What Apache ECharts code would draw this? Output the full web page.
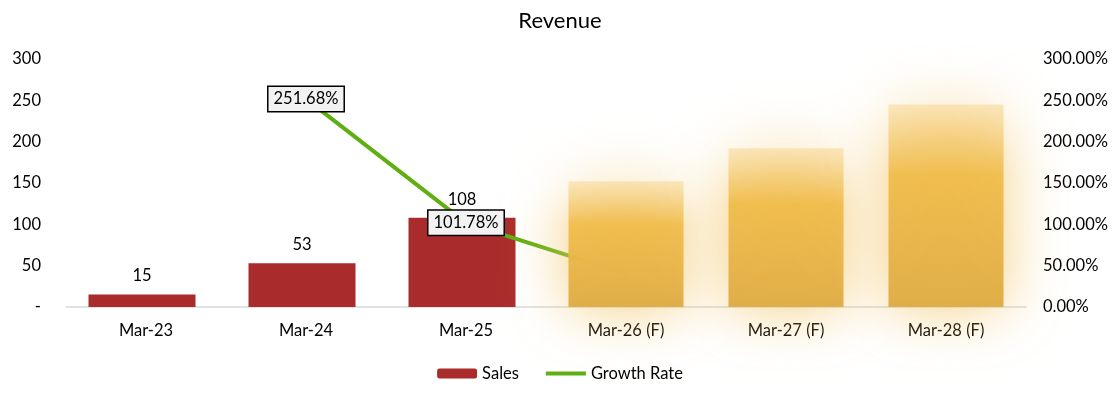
<!DOCTYPE html>
<html>
<head>
<meta charset="utf-8">
<script src="https://cdn.jsdelivr.net/npm/echarts@6/dist/echarts.min.js"></script>
<style>
    html, body { margin: 0; padding: 0; background: #fff; }
    #revenue-chart { width: 1120px; height: 399px; }
</style>
</head>
<body>
<div id="revenue-chart"></div>
<script>
// 数据
var categories = ['Mar-23', 'Mar-24', 'Mar-25', 'Mar-26 (F)', 'Mar-27 (F)', 'Mar-28 (F)'];
var sales = [15, 53, 108, null, null, null];
// forecast bars are blurred out in the picture, heights estimated
var forecastSales = [null, null, null, 152, 192, 245];
var growthRate = [null, 251.68, 101.78, 40, null, null];
// only the actual years show their growth label
var growthLabels = [null, 251.68, 101.78, null, null, null];

var fontName = 'Lato, "Open Sans", sans-serif';
var green = '#5FAE12';

var myChart = echarts.init(document.getElementById('revenue-chart'));

var option = {
    animation: false,
    textStyle: {
        fontFamily: fontName
    },
    title: {
        text: 'Revenue',
        left: 'center',
        top: 5,
        textStyle: {
            fontFamily: fontName,
            fontSize: 22,
            fontWeight: 'normal',
            color: '#000'
        }
    },
    legend: {
        data: ['Sales', {
            name: 'Growth Rate',
            itemStyle: {opacity: 0},
            lineStyle: {width: 4, color: green}
        }],
        bottom: 12,
        left: 'center',
        itemWidth: 40,
        itemHeight: 10,
        itemGap: 25,
        textStyle: {
            fontSize: 16.5,
            color: '#000'
        }
    },
    grid: {
        left: 66,
        right: 94,
        top: 59,
        bottom: 92
    },
    xAxis: {
        type: 'category',
        data: categories,
        axisTick: {
            show: false
        },
        axisLine: {
            lineStyle: {
                color: '#d9d9d9',
                width: 1.5
            }
        },
        axisLabel: {
            color: '#000',
            fontSize: 16.5,
            margin: 15
        }
    },
    yAxis: [{
        type: 'value',
        min: 0,
        max: 300,
        interval: 50,
        splitLine: {
            show: false
        },
        axisLabel: {
            color: '#000',
            fontSize: 16.5,
            margin: 25,
            formatter: function (v) {
                return v === 0 ? '-' : v;
            }
        }
    }, {
        type: 'value',
        min: 0,
        max: 300,
        interval: 50,
        splitLine: {
            show: false
        },
        axisLabel: {
            color: '#000',
            fontSize: 16.5,
            margin: 17,
            formatter: function (v) {
                return v.toFixed(2) + '%';
            }
        }
    }],
    series: [{
        name: 'Sales',
        type: 'bar',
        barWidth: 107,
        barGap: '-100%',
        itemStyle: {
            color: '#AA2B2B'
        },
        label: {
            show: true,
            position: 'top',
            distance: 10,
            color: '#000',
            fontSize: 16.5
        },
        data: sales
    }, {
        name: 'Growth Rate',
        type: 'line',
        yAxisIndex: 1,
        symbol: 'none',
        lineStyle: {
            width: 4,
            color: green
        },
        itemStyle: {
            color: green
        },
        data: growthRate,
        z: 3
    }, {
        name: 'Growth Label',
        type: 'scatter',
        yAxisIndex: 1,
        symbolSize: 2,
        itemStyle: {
            color: '#f2f2f2',
            opacity: 1
        },
        label: {
            show: true,
            position: 'inside',
            color: '#000',
            opacity: 1,
            fontSize: 16.5,
            backgroundColor: '#f2f2f2',
            borderColor: '#000',
            borderWidth: 1.5,
            padding: [4, 5, 3, 5],
            formatter: function (p) {
                return p.value[1].toFixed(2) + '%';
            }
        },
        data: growthLabels.map(function (v, i) {
            return v === null ? null : [i, v];
        }),
        z: 6
    }, {
        name: 'Forecast',
        type: 'bar',
        barWidth: 115,
        itemStyle: {
            color: new echarts.graphic.LinearGradient(0, 0, 0, 1, [
                {offset: 0, color: 'rgba(247,212,140,0.5)'},
                {offset: 0.35, color: 'rgba(240,188,75,0.95)'},
                {offset: 1, color: 'rgb(224,174,72)'}
            ]),
            shadowBlur: 60,
            shadowColor: 'rgba(242,196,100,0.85)'
        },
        data: forecastSales,
        z: 5
    }]
};

myChart.setOption(option);
</script>
</body>
</html>
